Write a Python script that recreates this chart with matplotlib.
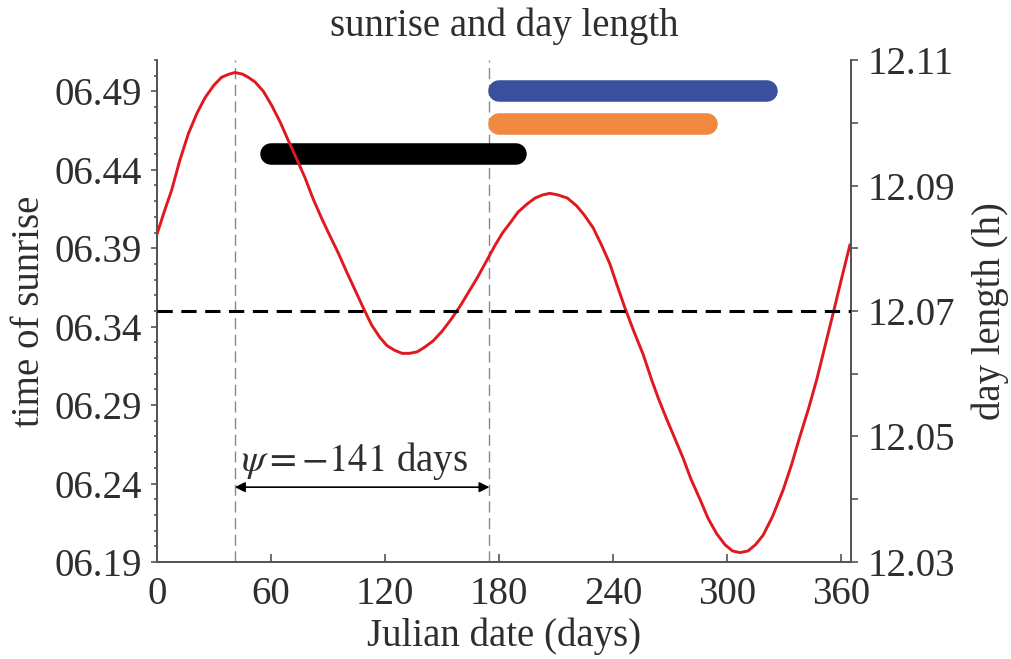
import matplotlib
matplotlib.use("Agg")
import matplotlib.pyplot as plt
from matplotlib.ticker import MultipleLocator, FixedLocator

plt.rcParams['font.family'] = ['Liberation Serif', 'DejaVu Serif']
plt.rcParams['mathtext.fontset'] = 'stix'

# ---- data ----
days = [0, 4, 7.7, 12, 16.5, 21, 25.3, 30, 34, 38, 41, 45, 48, 51.6, 56, 60.4, 65, 69,
        73.5, 77.9, 82, 86.7, 91, 95.4, 99.8, 104, 108.6, 113, 117.4, 121, 125, 129,
        133, 137, 141, 145.4, 150, 155, 159.5, 164, 168.5, 173.5, 178, 182, 185.8, 190,
        194.6, 199, 203, 206.8, 211, 216, 220.9, 225, 229.6, 234, 238.4, 242, 246.3,
        251, 256, 260.4, 264, 268.3, 272.5, 277, 281, 285.8, 290, 294.6, 299, 303,
        306.8, 311, 315, 319, 324, 329.6, 334, 338.4, 343, 347.2, 351.5, 356, 360, 364.7]
sunrise = [6.399, 6.414, 6.427, 6.446, 6.463, 6.476, 6.486, 6.494, 6.499, 6.501, 6.502,
           6.501, 6.499, 6.496, 6.490, 6.481, 6.470, 6.459, 6.447, 6.435, 6.422, 6.409,
           6.398, 6.387, 6.375, 6.364, 6.352, 6.341, 6.333, 6.328, 6.325, 6.323, 6.323,
           6.324, 6.327, 6.331, 6.337, 6.345, 6.353, 6.362, 6.371, 6.382, 6.392, 6.400,
           6.406, 6.413, 6.418, 6.422, 6.424, 6.425, 6.424, 6.422, 6.417, 6.411, 6.403,
           6.392, 6.380, 6.367, 6.352, 6.337, 6.322, 6.306, 6.294, 6.281, 6.269, 6.256,
           6.243, 6.230, 6.218, 6.208, 6.201, 6.197, 6.196, 6.197, 6.201, 6.207, 6.219,
           6.236, 6.252, 6.270, 6.288, 6.306, 6.327, 6.349, 6.369, 6.392]

mean_daylength = 12.07
vlines_days = [41, 175]
psi_label = r"$\psi = -141$ days"

bar_names = ["black", "blue", "orange"]
bar_start = [60, 180, 180]
bar_end = [189, 321, 289.5]
bar_level = [6.450, 6.490, 6.4695]
bar_colors = ["#000000", "#3a4f9e", "#f0883f"]

xticks = [0, 60, 120, 180, 240, 300, 360]
left_ticks = [6.19, 6.24, 6.29, 6.34, 6.39, 6.44, 6.49]
left_ticklabels = ["06.19", "06.24", "06.29", "06.34", "06.39", "06.44", "06.49"]
right_ticks = [12.03, 12.05, 12.07, 12.09, 12.11]
right_ticklabels = ["12.03", "12.05", "12.07", "12.09", "12.11"]

# ---- figure ----
W, H = 1011, 659
fig = plt.figure(figsize=(W / 100, H / 100), dpi=100)
L, R, B, T = 157, 851, 562, 60
ax = fig.add_axes([L / W, 1 - B / H, (R - L) / W, (B - T) / H])
ax2 = ax.twinx()

txt = "#2e2e2e"
spc = "#555555"
fs = 28

ax.set_xlim(0, 365.3)
ax.set_ylim(6.19, 6.51)
ax2.set_ylim(12.03, 12.11)

# curve
ax.plot(days, sunrise, color="#e0191e", lw=2.1, zorder=5)

# vertical guide lines
for d in vlines_days:
    ax.axvline(d, color="#888888", lw=1.0, dashes=(8, 4), zorder=1)

# mean day length dashed line (right axis)
ax2.axhline(mean_daylength, color="black", lw=2.2, dashes=(5, 2.8), zorder=3)

# bars
for s, e, lv, c in zip(bar_start, bar_end, bar_level, bar_colors):
    ax.plot([s, e], [lv, lv], color=c, lw=15.5, solid_capstyle="round", zorder=4)

# arrow + text
ax.annotate("", xy=(vlines_days[0], 6.2377), xytext=(vlines_days[1], 6.2377),
            arrowprops=dict(arrowstyle="<|-|>", color="black", lw=1.2,
                            mutation_scale=15, shrinkA=0, shrinkB=0))
ax.text(44, 6.2545, psi_label, fontsize=fs, color=txt, ha="left", va="center")

# spines
ax.spines["top"].set_visible(False)
ax2.spines["top"].set_visible(False)
for a in (ax, ax2):
    for sp in ("left", "right", "bottom"):
        a.spines[sp].set_color(spc)
        a.spines[sp].set_linewidth(1.3)

# ticks
ax.set_xticks(xticks)
ax.tick_params(axis="x", direction="in", length=6, width=1.2, color=spc,
               labelsize=fs, labelcolor=txt, pad=10)
ax.yaxis.set_major_locator(FixedLocator(left_ticks))
ax.set_yticklabels(left_ticklabels)
ax.yaxis.set_minor_locator(MultipleLocator(0.01))
ax.tick_params(axis="y", which="major", direction="out", length=4, width=1.2,
               color=spc, labelsize=fs, labelcolor=txt, pad=7)
ax.tick_params(axis="y", which="minor", direction="out", length=2.5, width=1.2, color=spc)

ax2.yaxis.set_major_locator(FixedLocator(right_ticks))
ax2.set_yticklabels(right_ticklabels)
ax2.yaxis.set_minor_locator(MultipleLocator(0.01))
ax2.tick_params(axis="y", which="major", direction="out", length=5, width=1.2,
                color=spc, labelsize=fs, labelcolor=txt, pad=7)
ax2.tick_params(axis="y", which="minor", direction="out", length=5, width=1.2, color=spc)

# labels
ax.set_ylabel("time of sunrise", fontsize=fs, color=txt, va="center")
ax.yaxis.set_label_coords(-(L - 30) / (R - L), 0.5)
ax2.set_ylabel("day length (h)", fontsize=fs, color=txt, va="center", rotation=90)
ax2.yaxis.set_label_coords(1 + (990 - R) / (R - L), 0.5)
ax.set_xlabel("Julian date (days)", fontsize=fs, color=txt, va="center")
ax.xaxis.set_label_coords(0.5, -(636 - B) / (B - T))

fig.text((L + R) / 2 / W, 1 - 26 / H, "sunrise and day length", fontsize=fs,
         color=txt, ha="center", va="center")

fig.savefig("out.png", dpi=100)
